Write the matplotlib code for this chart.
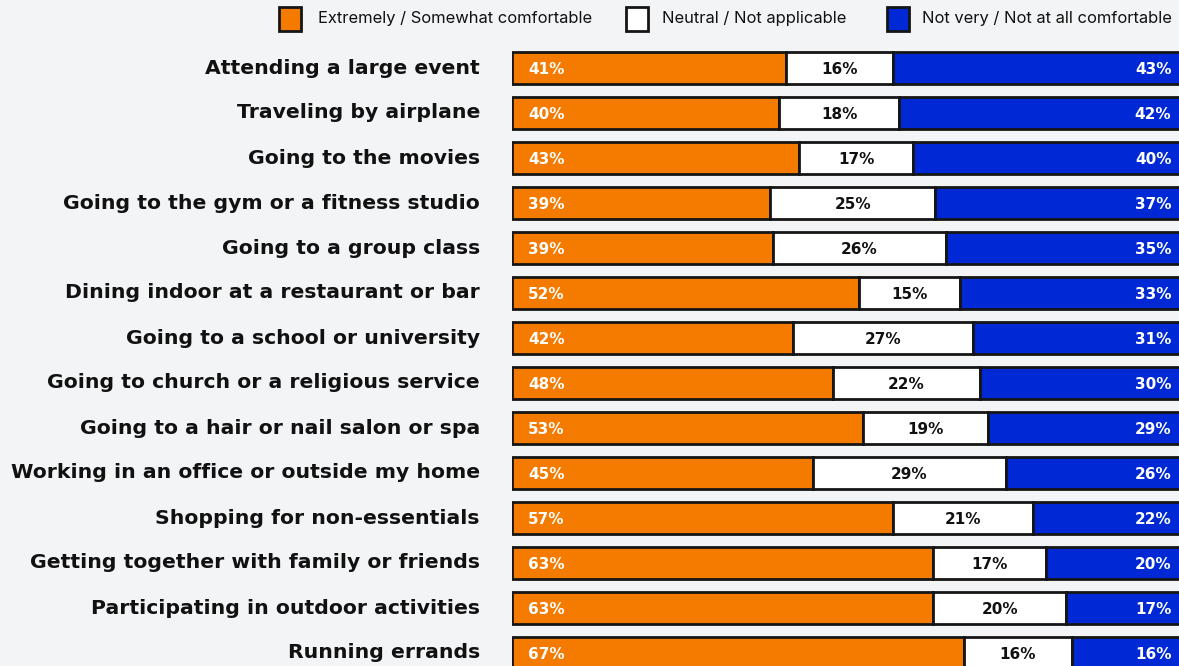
import numpy as np
import matplotlib
matplotlib.use("Agg")
import matplotlib.pyplot as plt
from matplotlib.patches import Rectangle

activities = [
    "Attending a large event",
    "Traveling by airplane",
    "Going to the movies",
    "Going to the gym or a fitness studio",
    "Going to a group class",
    "Dining indoor at a restaurant or bar",
    "Going to a school or university",
    "Going to church or a religious service",
    "Going to a hair or nail salon or spa",
    "Working in an office or outside my home",
    "Shopping for non-essentials",
    "Getting together with family or friends",
    "Participating in outdoor activities",
    "Running errands",
]
comfortable = [41, 40, 43, 39, 39, 52, 42, 48, 53, 45, 57, 63, 63, 67]
neutral = [16, 18, 17, 25, 26, 15, 27, 22, 19, 29, 21, 17, 20, 16]
uncomfortable = [43, 42, 40, 37, 35, 33, 31, 30, 29, 26, 22, 20, 17, 16]

legend_labels = ["Extremely / Somewhat comfortable", "Neutral / Not applicable",
                 "Not very / Not at all comfortable"]

ORANGE = "#F57A00"
WHITE = "#FFFFFF"
BLUE = "#0028D4"
EDGE = "#151515"
BG = "#F3F4F6"

W, H = 1179, 666
fig = plt.figure(figsize=(W / 100, H / 100), dpi=100, facecolor=BG)

# axes laid out in pixel terms: bars start at x=512, rows 45px apart from y=68
ax = fig.add_axes([512 / W, 0, 668 / W, 1])
ax.set_facecolor(BG)
n = len(activities)
y = np.arange(n)
ax.set_ylim((H - 68) / 45, -68 / 45)
ax.set_xlim(0, 100)

comf = np.array(comfortable, float)
neut = np.array(neutral, float)
unc = np.array(uncomfortable, float)
tot = comf + neut + unc
c_s, n_s, u_s = comf / tot * 100, neut / tot * 100, unc / tot * 100

bh = 0.71
kw = dict(height=bh, edgecolor=EDGE, linewidth=2)
ax.barh(y, c_s, color=ORANGE, **kw)
ax.barh(y, n_s, left=c_s, color=WHITE, **kw)
ax.barh(y, u_s, left=c_s + n_s, color=BLUE, **kw)

wide = ["DejaVu Sans"]
narrow = ["Inter", "DejaVu Sans"]
for i in range(n):
    yy = i + 0.03
    ax.text(2.4, yy, f"{comfortable[i]}%", color="white", fontsize=11,
            fontweight="bold", ha="left", va="center", family=wide)
    ax.text(c_s[i] + n_s[i] / 2, yy, f"{neutral[i]}%", color="#111111", fontsize=11,
            fontweight="bold", ha="center", va="center", family=wide)
    ax.text(98.7, yy, f"{uncomfortable[i]}%", color="white", fontsize=11,
            fontweight="bold", ha="right", va="center", family=wide)
    fig.text(480 / W, 1 - (68 + 45 * i) / H, activities[i], fontsize=14.7,
             fontweight="bold", ha="right", va="center", color="#111111",
             family=wide)

ax.axis("off")

# legend across the top
sw_x = [279, 626, 887]
txt_x = [318, 662, 922]
for sx, tx, col, lab in zip(sw_x, txt_x, [ORANGE, WHITE, BLUE], legend_labels):
    fig.patches.append(Rectangle((sx / W, 1 - 31 / H), 22 / W, 24 / H,
                                 transform=fig.transFigure, facecolor=col,
                                 edgecolor=EDGE, linewidth=2))
    fig.text(tx / W, 1 - 19 / H, lab, fontsize=11.9, ha="left", va="center",
             color="#111111", family=narrow)

fig.savefig("out.png", dpi=100, facecolor=BG)
